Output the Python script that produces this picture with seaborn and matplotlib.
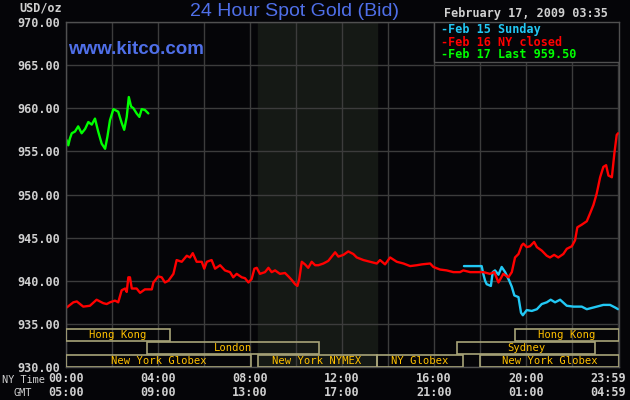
import matplotlib.pyplot as plt
import matplotlib.transforms as mtransforms
from matplotlib.patches import Rectangle
import numpy as np
import pandas as pd
import seaborn as sns

# Dati (ore NY, prezzo USD/oz)

# Feb 15 Sunday
sun_hours = [17.30, 18.07, 18.14, 18.22, 18.29, 18.47, 18.55, 18.65, 18.80, 18.94,
             19.09, 19.27, 19.38, 19.49, 19.67, 19.78, 19.86, 20.03, 20.25, 20.47,
             20.68, 20.90, 21.07, 21.26, 21.48, 21.77, 22.06, 22.42, 22.64, 22.93,
             23.36, 23.65, 23.87, 24.0]
sun_price = [941.7, 941.7, 940.8, 940.0, 939.6, 939.4, 941.0, 941.2, 940.7, 941.6,
             941.0, 940.0, 939.3, 938.3, 938.1, 936.3, 936.0, 936.6, 936.5, 936.7,
             937.3, 937.5, 937.8, 937.5, 937.8, 937.1, 937.0, 937.0, 936.7, 936.9,
             937.2, 937.2, 936.9, 936.7]

# Feb 16 NY closed
mon_hours = [0.03, 0.32, 0.47, 0.75, 1.04, 1.33, 1.62, 1.77, 1.91, 2.13,
             2.27, 2.42, 2.57, 2.64, 2.71, 2.78, 2.86, 3.07, 3.22, 3.43,
             3.73, 3.80, 4.01, 4.16, 4.30, 4.45, 4.67, 4.81, 5.03, 5.25,
             5.39, 5.51, 5.68, 5.90, 6.01, 6.12, 6.33, 6.48, 6.70, 6.91,
             7.13, 7.27, 7.42, 7.64, 7.78, 7.93, 8.07, 8.19, 8.29, 8.43,
             8.65, 8.80, 8.94, 9.09, 9.30, 9.52, 9.67, 9.81, 9.96, 10.06,
             10.14, 10.25, 10.39, 10.53, 10.68, 10.83, 10.97, 11.19, 11.40, 11.55,
             11.70, 11.84, 12.06, 12.27, 12.49, 12.64, 12.93, 13.22, 13.51, 13.65,
             13.87, 14.09, 14.38, 14.67, 14.96, 15.25, 15.47, 15.83, 15.97, 16.26,
             16.55, 16.84, 17.13, 17.27, 17.57, 18.14, 18.43, 18.62, 18.80, 19.01,
             19.23, 19.38, 19.52, 19.67, 19.81, 19.88, 20.03, 20.17, 20.35, 20.47,
             20.68, 20.90, 21.04, 21.22, 21.40, 21.62, 21.77, 21.99, 22.13, 22.23,
             22.42, 22.64, 22.78, 22.93, 23.07, 23.22, 23.36, 23.48, 23.58, 23.73,
             23.84, 23.94, 24.0]
mon_price = [936.9, 937.5, 937.6, 937.0, 937.1, 937.8, 937.4, 937.3, 937.5, 937.7,
             937.5, 938.9, 939.1, 938.7, 940.4, 940.4, 939.1, 939.1, 938.6, 939.0,
             939.0, 939.8, 940.5, 940.4, 939.8, 940.0, 940.8, 942.4, 942.2, 942.9,
             942.7, 943.2, 942.2, 942.2, 941.4, 942.2, 942.4, 941.4, 941.8, 941.2,
             941.0, 940.4, 940.8, 940.4, 940.3, 939.8, 940.2, 941.4, 941.5, 940.8,
             941.0, 941.5, 941.0, 941.2, 940.8, 940.9, 940.5, 940.1, 939.6, 939.4,
             940.2, 942.2, 941.9, 941.5, 942.2, 941.8, 941.8, 942.0, 942.3, 942.8,
             943.3, 942.8, 943.0, 943.4, 943.1, 942.7, 942.4, 942.2, 942.0, 942.4,
             941.9, 942.7, 942.2, 942.0, 941.7, 941.8, 941.9, 942.0, 941.6, 941.3,
             941.2, 941.0, 941.0, 941.2, 941.0, 941.0, 940.8, 941.0, 939.8, 940.8,
             940.4, 941.0, 942.7, 943.1, 944.1, 944.3, 943.9, 944.0, 944.5, 943.9,
             943.5, 942.9, 942.7, 943.0, 942.7, 943.1, 943.7, 944.0, 944.7, 946.2,
             946.5, 946.9, 947.8, 948.8, 950.1, 952.0, 953.2, 953.4, 952.2, 952.0,
             954.8, 956.9, 957.1]

# Feb 17 Last
tue_hours = [0.03, 0.10, 0.17, 0.25, 0.39, 0.53, 0.68, 0.83, 0.97, 1.12,
             1.26, 1.40, 1.55, 1.70, 1.80, 1.91, 2.06, 2.27, 2.42, 2.53,
             2.64, 2.73, 2.83, 2.93, 3.07, 3.19, 3.29, 3.43, 3.58]
tue_price = [956.3, 955.7, 956.5, 957.1, 957.3, 957.9, 957.1, 957.6, 958.4, 958.1,
             958.8, 957.3, 955.9, 955.3, 956.7, 958.6, 959.9, 959.6, 958.3, 957.5,
             959.0, 961.3, 960.2, 960.0, 959.4, 959.0, 959.9, 959.8, 959.4]

series_names = ['Feb 15 Sunday', 'Feb 16 NY closed', 'Feb 17 Last 959.50']
series_colors = ['#22c8f4', '#ff0000', '#00ff00']

# sessioni di mercato
session_names = ['Hong Kong', 'London', 'New York Globex', 'New York NYMEX',
                 'NY Globex', 'New York Globex', 'Hong Kong', 'Sydney']
session_start = [0.0, 3.5, 0.0, 8.33, 13.5, 18.0, 19.5, 17.0]
session_end = [4.5, 11.0, 8.05, 13.5, 17.25, 24.04, 24.04, 23.0]
session_row = [0, 1, 2, 2, 2, 2, 0, 1]

tick_hours = [0, 4, 8, 12, 16, 20, 24]
ny_labels = ['00:00', '04:00', '08:00', '12:00', '16:00', '20:00', '23:59']
gmt_labels = ['05:00', '09:00', '13:00', '17:00', '21:00', '01:00', '04:59']

df = pd.concat([
    pd.DataFrame({'ora': sun_hours, 'prezzo': sun_price, 'serie': series_names[0]}),
    pd.DataFrame({'ora': mon_hours, 'prezzo': mon_price, 'serie': series_names[1]}),
    pd.DataFrame({'ora': tue_hours, 'prezzo': tue_price, 'serie': series_names[2]}),
])

bg = '#050508'
grid_col = '#3c3c3c'
txt_col = '#d0d0d0'
box_col = '#a8a478'
box_txt = '#ffc000'
blue_txt = '#4f6fe8'

sns.set_style('dark', {'axes.facecolor': bg, 'figure.facecolor': bg})
plt.rcParams['font.family'] = ['DejaVu Sans Mono']

fig = plt.figure(figsize=(6.3, 4), dpi=100)
ax = fig.add_axes([66 / 630, 33 / 400, 553 / 630, 345 / 400])
ax.set_facecolor(bg)

# zona NYMEX
ax.axvspan(8.33, 13.5, color='#151915', zorder=0)

sns.lineplot(data=df, x='ora', y='prezzo', hue='serie', palette=series_colors,
             hue_order=series_names, estimator=None, sort=False, lw=1.7,
             legend=False, ax=ax, zorder=2)

ax.set_xlim(0, 24.04)
ax.set_ylim(930, 970)
ax.set_xticks(np.arange(0, 25, 2))
ax.set_xticklabels([])
ax.set_yticks(np.arange(930, 971, 5))
ax.set_yticklabels(['%.2f' % v for v in np.arange(930, 971, 5)],
                   color=txt_col, fontsize=8.5, fontweight='bold')
ax.tick_params(axis='both', length=0, pad=4)
ax.grid(True, color=grid_col, lw=1)
ax.set_axisbelow(True)
ax.set_xlabel('')
ax.set_ylabel('')
for s in ax.spines.values():
    s.set_color('#505050')
    s.set_linewidth(1)

# riquadri sessioni
row_bottom = [933.0, 931.5, 930.0]
row_h = 1.4
for name, a, b, r in zip(session_names, session_start, session_end, session_row):
    ax.add_patch(Rectangle((a, row_bottom[r]), b - a, row_h, facecolor='none',
                           edgecolor=box_col, lw=1.2, zorder=3))
    ax.text((a + b) / 2, row_bottom[r] + row_h / 2, name, color=box_txt,
            fontsize=7.6, ha='center', va='center', zorder=4)

# etichette asse x
tr = ax.get_xaxis_transform()
for i, (h, l1, l2) in enumerate(zip(tick_hours, ny_labels, gmt_labels)):
    t = tr
    if i == len(tick_hours) - 1:
        t = tr + mtransforms.ScaledTranslation(-10 / 100, 0, fig.dpi_scale_trans)
    ax.text(h, -11 / 345, l1, transform=t, ha='center', va='center',
            color=txt_col, fontsize=8.5, fontweight='bold', clip_on=False)
    ax.text(h, -26 / 345, l2, transform=t, ha='center', va='center',
            color=txt_col, fontsize=8.5, fontweight='bold', clip_on=False)

fig.text(45 / 630, 1 - 380 / 400, 'NY Time', color=txt_col, fontsize=7.4,
         ha='right', va='center')
fig.text(23 / 630, 1 - 393 / 400, 'GMT', color=txt_col, fontsize=7.4,
         ha='center', va='center')
fig.text(62 / 630, 1 - 8 / 400, 'USD/oz', color=txt_col, fontsize=8.5,
         fontweight='bold', ha='right', va='center')

# titolo e sito
fig.text(295 / 630, 1 - 11 / 400, '24 Hour Spot Gold (Bid)', color=blue_txt,
         fontsize=14, family='Liberation Sans', ha='center', va='center')
ax.text(68 / 630, 1 - 49 / 400, 'www.kitco.com', color=blue_txt, fontsize=13.5,
        fontweight='bold', family='Liberation Sans', ha='left', va='center',
        transform=fig.transFigure, zorder=5)
fig.text(608 / 630, 1 - 14 / 400, 'February 17, 2009 03:35', color=txt_col,
         fontsize=8.5, fontweight='bold', ha='right', va='center')

# legenda
ax.add_patch(Rectangle((16.0, 965.4), 8.04, 4.6, facecolor=bg, edgecolor='#505050',
                       lw=1, zorder=4))
leg_y = [29.5, 42, 54.5]
for name, col, y in zip(series_names, series_colors, leg_y):
    fig.text(441 / 630, 1 - y / 400, '-' + name, color=col, fontsize=8.5,
             fontweight='bold', ha='left', va='center', zorder=6)

fig.savefig('out.png', dpi=100, facecolor=bg)
